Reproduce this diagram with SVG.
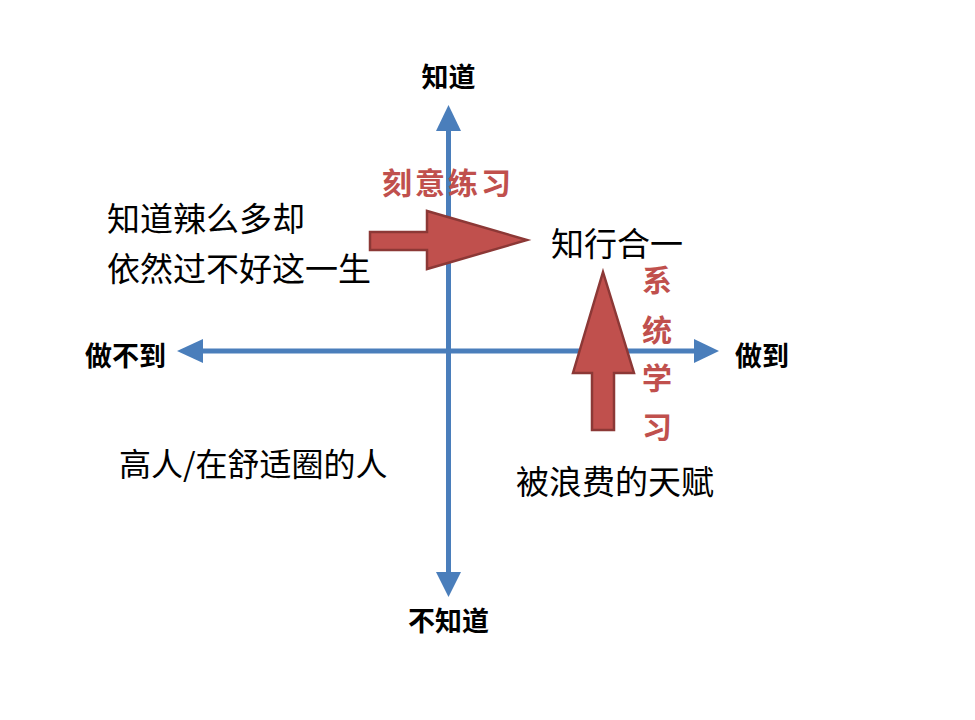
<svg xmlns="http://www.w3.org/2000/svg" width="975" height="720" viewBox="0 0 975 720">
<style>
.axis{stroke:#4a7ebb;stroke-width:5;fill:none}
.axhead{fill:#4a7ebb}
.axlabel{font-family:"Noto Sans CJK SC","Noto Sans",sans-serif;font-weight:bold;font-size:27px;fill:#000}
.txt{font-family:"Noto Sans CJK SC","Noto Sans",sans-serif;font-size:33px;fill:#000}
.red{font-family:"Noto Sans CJK SC","Noto Sans",sans-serif;font-weight:bold;font-size:30px;fill:#c0504d}
.bigarrow{fill:#c0504d;stroke:#8c3836;stroke-width:2.5;stroke-linejoin:miter}
</style>
<rect width="975" height="720" fill="#ffffff"/>
<g id="connectors">
  <line class="axis" x1="448.5" y1="128" x2="448.5" y2="575"/>
  <polygon class="axhead" points="448.5,105 461,131 436,131"/>
  <polygon class="axhead" points="448.5,597 461,572 436,572"/>
  <line class="axis" x1="200" y1="351" x2="697" y2="351"/>
  <polygon class="axhead" points="177,351 203,339 203,363"/>
  <polygon class="axhead" points="719,351 694,339 694,363"/>
</g>
<g id="label-know"><text class="axlabel" x="448.5" y="87" text-anchor="middle">知道</text></g>
<g id="label-notknow"><text class="axlabel" x="448.5" y="631" text-anchor="middle">不知道</text></g>
<g id="label-cannot"><text class="axlabel" x="85" y="366">做不到</text></g>
<g id="label-can"><text class="axlabel" x="735" y="366">做到</text></g>
<g id="quad-tl">
  <text class="txt" x="107" y="230.5">知道辣么多却</text>
  <text class="txt" x="107" y="280.5">依然过不好这一生</text>
</g>
<g id="quad-tr"><text class="txt" x="551" y="255.5">知行合一</text></g>
<g id="quad-bl"><text class="txt" x="119" y="476" style="font-size:32px">高人/在舒适圈的人</text></g>
<g id="quad-br"><text class="txt" x="516" y="493.5">被浪费的天赋</text></g>
<g id="arrow-practice">
  <polygon class="bigarrow" points="370,232 427,232 427,211 527,240 427,269 427,250 370,250"/>
  <text class="red" x="382" y="194" style="letter-spacing:3px">刻意练习</text>
</g>
<g id="arrow-study">
  <polygon class="bigarrow" points="603,272 634,373 614,373 614,430 592,430 592,373 573,373"/>
  <text class="red" x="657" y="291" text-anchor="middle">系</text>
  <text class="red" x="657" y="341" text-anchor="middle">统</text>
  <text class="red" x="657" y="389" text-anchor="middle">学</text>
  <text class="red" x="657" y="438" text-anchor="middle">习</text>
</g>
</svg>
